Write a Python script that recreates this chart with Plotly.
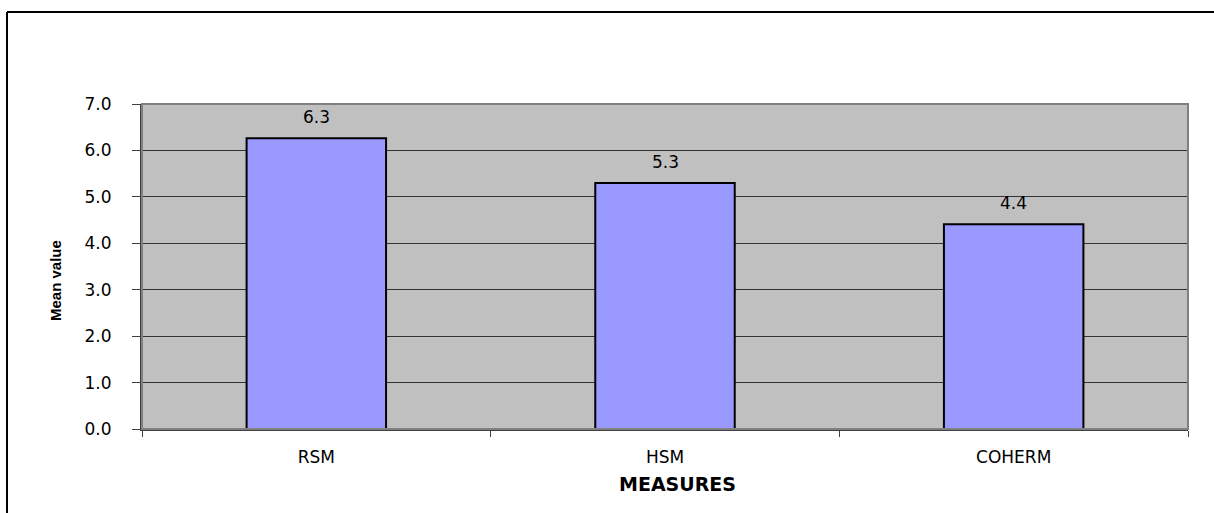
import plotly.graph_objects as go

categories = ["RSM", "HSM", "COHERM"]
mean_values = [6.26, 5.30, 4.41]
value_labels = ["6.3", "5.3", "4.4"]
y_ticks = [0, 1, 2, 3, 4, 5, 6, 7]
y_tick_labels = ["0.0", "1.0", "2.0", "3.0", "4.0", "5.0", "6.0", "7.0"]

W, H = 1214, 513
L, R, T, B = 142, 26, 104, 84
pw, ph = W - L - R, H - T - B

fig = go.Figure()
fig.add_trace(go.Bar(
    x=categories, y=mean_values,
    marker=dict(color="#9999FF", line=dict(color="#000000", width=2)),
    width=0.4, hoverinfo="x+y",
))

for c, v, t in zip(categories, mean_values, value_labels):
    fig.add_annotation(x=c, y=v, text=t, showarrow=False, yanchor="bottom",
                       yshift=9, font=dict(family="DejaVu Sans", size=17, color="#000"))

# axis titles
fig.add_annotation(xref="paper", yref="paper", x=(55 - L) / pw, y=(H - B - 281) / ph,
                   xanchor="center", yanchor="middle",
                   text="<b>Mean value</b>", textangle=-90, showarrow=False,
                   font=dict(family="Liberation Sans, Arial", size=15, color="#000"))
fig.add_annotation(xref="paper", yref="paper", x=(677 - L) / pw, y=(H - B - 484) / ph,
                   xanchor="center", yanchor="middle",
                   text="<b>MEASURES</b>", showarrow=False,
                   font=dict(family="DejaVu Sans", size=19, color="#000"))

# plot-area border (gray) and outer frame (black)
fig.add_shape(type="rect", xref="paper", yref="paper", x0=0, x1=1, y0=0, y1=1,
              line=dict(color="#808080", width=2), layer="above")
fx0 = (7 - L) / pw
fy1 = (H - B - 12) / ph
fy0 = (H - B - H - 5) / ph
fx1 = (W + 5 - L) / pw
fig.add_shape(type="line", xref="paper", yref="paper", x0=fx0, x1=fx0, y0=fy0, y1=fy1,
              line=dict(color="#000", width=2))
fig.add_shape(type="line", xref="paper", yref="paper", x0=fx0, x1=fx1, y0=fy1, y1=fy1,
              line=dict(color="#000", width=2))

fig.update_layout(
    width=W, height=H,
    margin=dict(l=L, r=R, t=T, b=B),
    paper_bgcolor="#FFFFFF", plot_bgcolor="#C0C0C0",
    showlegend=False, bargap=0.6,
    xaxis=dict(
        showgrid=False, showline=True, linecolor="#404040", linewidth=2,
        ticks="outside", tickson="boundaries", ticklen=6, tickcolor="#404040",
        tickfont=dict(family="DejaVu Sans", size=17, color="#000"),
        ticklabelstandoff=12,
    ),
    yaxis=dict(
        range=[0, 7], tickvals=y_ticks, ticktext=y_tick_labels,
        showgrid=True, gridcolor="#333333", gridwidth=1,
        showline=True, linecolor="#404040", linewidth=2,
        ticks="outside", ticklen=8, tickcolor="#404040",
        tickfont=dict(family="DejaVu Sans", size=17, color="#000"),
        ticklabelstandoff=17, zeroline=False,
    ),
)

fig.write_html("out.html")
